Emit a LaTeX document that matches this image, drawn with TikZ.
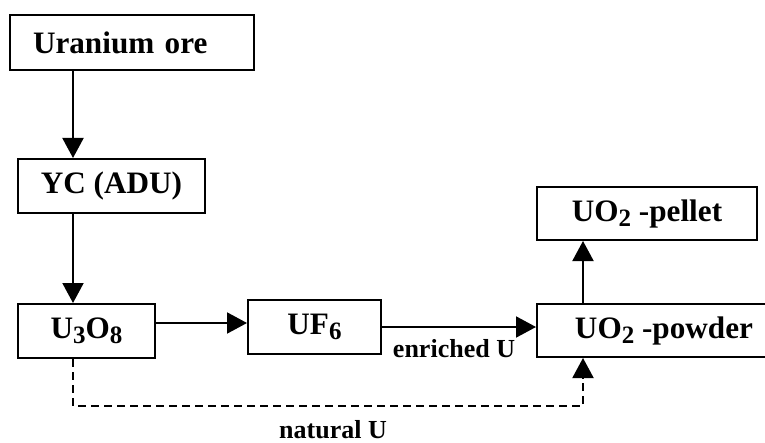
\documentclass[tikz,border=0pt]{standalone}
\usepackage{fontspec}
\setmainfont{Liberation Serif}
\usetikzlibrary{arrows.meta}
\newcommand{\sbs}[1]{\raisebox{-2.5pt}{\fontsize{12.5}{12.5}\selectfont #1}}

\begin{document}
\begin{tikzpicture}[x=0.5pt,y=-0.5pt,->,>={Triangle[length=10pt,width=10.5pt]},
        line width=1pt,
        box/.style={draw,-,anchor=north west,inner sep=0pt,
            font=\fontsize{15.6}{18}\selectfont\bfseries},
        lbl/.style={-,inner sep=0pt,font=\fontsize{13}{15}\selectfont\bfseries},
        dashline/.style={dash pattern=on 4pt off 2.5pt}]

        \useasboundingbox (0,0) rectangle (765,443);

        % Define vertices
        \node[box,minimum width=122pt,minimum height=27.5pt,align=left,
            text width=99pt,inner xsep=11.5pt] (ore) at (9,14) {Uranium ore};
        \node[box,minimum width=93.5pt,minimum height=27pt] (yc) at (17,158) {YC (ADU)};
        \node[box,minimum width=68.5pt,minimum height=27pt] (u3o8) at (17,303) {U\sbs{3}O\sbs{8}};
        \node[box,minimum width=66.5pt,minimum height=27pt] (uf6) at (247,299) {UF\sbs{6}};
        \node[box,minimum width=127pt,minimum height=26.5pt] (powder) at (536,303) {UO\sbs{2} -powder};
        \node[box,minimum width=110pt,minimum height=26.5pt] (pellet) at (536,186) {UO\sbs{2} -pellet};

        % Define columns and rows of the connectors
        \coordinate (xa) at (73,0);
        \coordinate (xp) at (583,0);
        \coordinate (yr) at (0,323);
        \coordinate (ye) at (0,327);
        \coordinate (yd) at (0,406);

        % Draw edges
        \draw (ore.south -| xa) -- (yc.north -| xa);
        \draw (yc.south -| xa) -- (u3o8.north -| xa);
        \draw (u3o8.east |- yr) -- (uf6.west |- yr);
        \draw (uf6.east |- ye) -- (powder.west |- ye);
        \draw (powder.north -| xp) -- (pellet.south -| xp);
        \draw[dashline] (u3o8.south -| xa) -- (xa |- yd) -- (xp |- yd) -- (powder.south -| xp);

        % Labels
        \node[lbl,anchor=base] (enr) at (454,357) {enriched U};
        \node[lbl,anchor=base] (nat) at (333,438) {natural U};

\end{tikzpicture}
\end{document}
